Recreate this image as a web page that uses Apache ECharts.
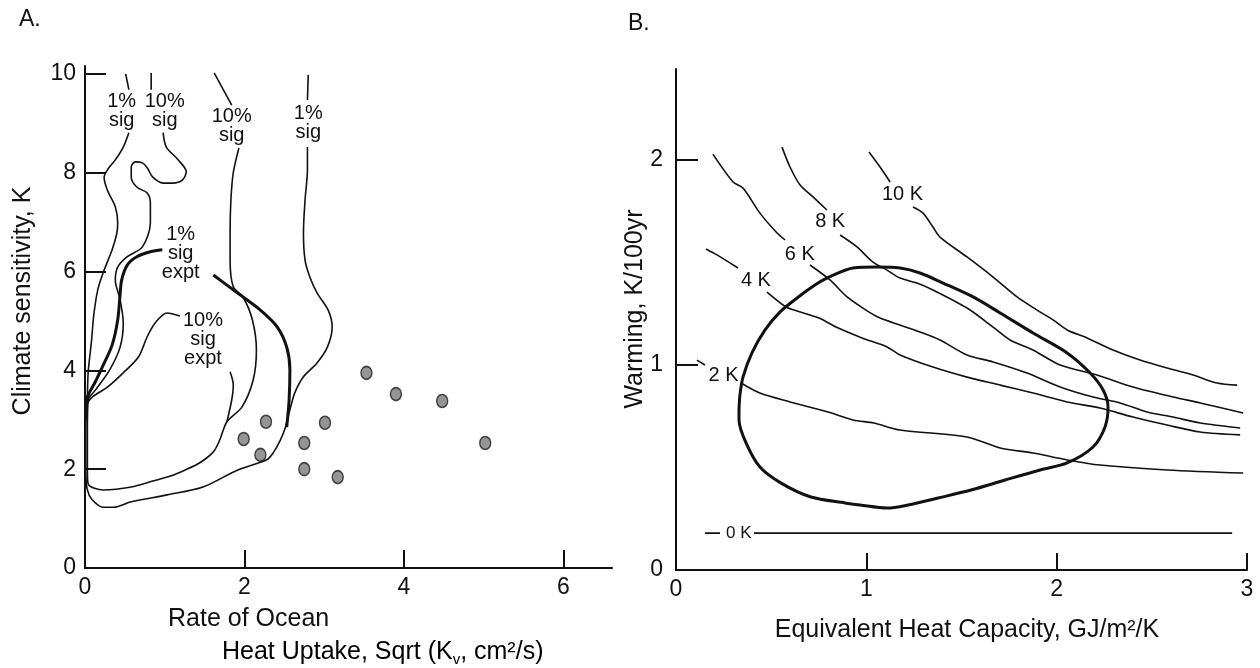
<!DOCTYPE html>
<html>
<head>
<meta charset="utf-8">
<script src="https://cdn.jsdelivr.net/npm/echarts@6/dist/echarts.min.js"></script>
<style>
html, body { margin: 0; padding: 0; background: #fff; }
#chart { width: 1260px; height: 668px; }
</style>
</head>
<body>
<div id="chart"></div>
<script>
// ---- Panel A: ocean heat uptake vs climate sensitivity ----
const aXTicks = [0, 2, 4, 6];
const aYTicks = [0, 2, 4, 6, 8, 10];

const sig1TopLeft = [[0.51, 10.0], [0.55, 9.68]];
const sig1TopRight = [[2.80, 9.98], [2.79, 9.47]];
const sig10TopLeft = [[0.83, 10.02], [0.83, 9.68]];
const sig10TopRight = [[1.62, 10.02], [1.84, 9.37]];

// 1% sig contour (outer)
const sig1Outer = [
    [0.55, 8.81], [0.48, 8.52], [0.38, 8.26], [0.29, 8.08], [0.24, 7.91], [0.28, 7.65],
    [0.38, 7.31], [0.41, 6.98], [0.40, 6.78], [0.34, 6.44], [0.24, 6.03], [0.16, 5.63],
    [0.11, 5.12], [0.08, 4.57], [0.04, 3.97], [0.03, 3.50], [0.01, 2.79], [0.01, 1.98],
    [0.03, 1.58], [0.09, 1.38], [0.23, 1.23], [0.36, 1.23], [0.58, 1.34], [1.03, 1.48],
    [1.48, 1.64], [1.91, 1.98], [2.28, 2.19], [2.36, 2.33], [2.45, 2.59], [2.51, 2.83],
    [2.57, 3.20], [2.63, 3.54], [2.74, 3.87], [2.91, 4.15], [3.04, 4.47], [3.10, 4.88],
    [3.05, 5.22], [2.91, 5.57], [2.82, 5.89], [2.76, 6.23], [2.74, 6.78], [2.76, 7.45],
    [2.79, 8.06], [2.79, 8.52]
];

// 10% sig contour (inner)
const sig10Inner = [
    [0.98, 8.81], [1.02, 8.52], [1.17, 8.26], [1.27, 8.02], [1.22, 7.85], [1.10, 7.79],
    [0.98, 7.79], [0.85, 7.91], [0.78, 8.10], [0.72, 8.20], [0.63, 8.22], [0.58, 8.12],
    [0.58, 7.91], [0.65, 7.71], [0.78, 7.59], [0.82, 7.39], [0.82, 6.98], [0.72, 6.50],
    [0.53, 6.30], [0.41, 6.09], [0.38, 5.83], [0.44, 5.43], [0.48, 4.96], [0.44, 4.47],
    [0.31, 4.01], [0.13, 3.60], [0.04, 3.40], [0.03, 2.79], [0.03, 1.98], [0.04, 1.70],
    [0.23, 1.58], [0.58, 1.64], [0.85, 1.76], [1.07, 1.86], [1.25, 1.98], [1.44, 2.13],
    [1.61, 2.35], [1.69, 2.59], [1.78, 2.96], [1.97, 3.26], [2.11, 3.81], [2.15, 4.41],
    [2.10, 5.02], [1.98, 5.49], [1.86, 5.69], [1.82, 6.23], [1.82, 6.78], [1.83, 7.45],
    [1.86, 8.00], [1.93, 8.50]
];

// 1% sig expt (thick)
const sig1ExptLeft = [
    [0.97, 6.44], [0.82, 6.40], [0.65, 6.30], [0.53, 6.13], [0.46, 5.83], [0.44, 5.53],
    [0.41, 5.02], [0.34, 4.51], [0.23, 4.11], [0.13, 3.77], [0.04, 3.50], [0.01, 3.30]
];
const sig1ExptRight = [
    [1.61, 5.93], [1.91, 5.57], [2.20, 5.22], [2.41, 4.88], [2.53, 4.47], [2.57, 4.01],
    [2.56, 3.40], [2.53, 2.85]
];

// 10% sig expt
const sig10ExptUpper = [
    [1.19, 5.10], [1.03, 5.16], [0.88, 4.96], [0.78, 4.68], [0.67, 4.27], [0.48, 3.95],
    [0.28, 3.66], [0.09, 3.46], [0.03, 3.34]
];
const sig10ExptStub = [[1.82, 3.97], [1.86, 3.70], [1.84, 3.40], [1.78, 2.96]];

// model results
const modelPoints = [
    [3.53, 3.95], [3.90, 3.52], [4.48, 3.38], [5.02, 2.53], [2.27, 2.96], [1.99, 2.61],
    [2.20, 2.29], [2.75, 2.53], [3.01, 2.94], [2.75, 2.00], [3.17, 1.84]
];

const panelALabels = [
    [0.46, 9.25, '1%\nsig'],
    [1.00, 9.25, '10%\nsig'],
    [1.84, 8.95, '10%\nsig'],
    [2.80, 9.01, '1%\nsig'],
    [1.20, 6.36, '1%\nsig\nexpt'],
    [1.48, 4.62, '10%\nsig\nexpt']
];

// ---- Panel B: heat capacity vs warming ----
const bXTicks = [0, 1, 2, 3];
const bYTicks = [0, 1, 2];

const k10Head = [[1.014, 2.039], [1.072, 1.966], [1.125, 1.893]];
const k10 = [
    [1.245, 1.771], [1.298, 1.741], [1.350, 1.673], [1.387, 1.624], [1.529, 1.527],
    [1.666, 1.429], [1.792, 1.332], [1.897, 1.268], [1.981, 1.220], [2.055, 1.171],
    [2.160, 1.132], [2.296, 1.073], [2.438, 1.024], [2.580, 0.985], [2.717, 0.951],
    [2.843, 0.912], [2.948, 0.902]
];
const k8Head = [[0.557, 2.063], [0.599, 1.966], [0.652, 1.878], [0.720, 1.820], [0.793, 1.756]];
const k8 = [
    [0.862, 1.634], [0.951, 1.576], [1.035, 1.502], [1.109, 1.463], [1.177, 1.424],
    [1.266, 1.400], [1.350, 1.366], [1.529, 1.278], [1.666, 1.185], [1.755, 1.122],
    [1.876, 1.073], [2.018, 1.000], [2.212, 0.951], [2.401, 0.893], [2.612, 0.844],
    [2.754, 0.815], [2.980, 0.766]
];
const k6Head = [[0.194, 2.029], [0.300, 1.893], [0.352, 1.863], [0.441, 1.741], [0.531, 1.644], [0.573, 1.610]];
const k6 = [
    [0.704, 1.488], [0.809, 1.415], [0.899, 1.332], [0.998, 1.268], [1.072, 1.229],
    [1.177, 1.195], [1.282, 1.161], [1.387, 1.122], [1.529, 1.049], [1.666, 1.015],
    [1.844, 0.961], [2.018, 0.893], [2.191, 0.844], [2.333, 0.815], [2.475, 0.771],
    [2.612, 0.746], [2.754, 0.717], [2.964, 0.693]
];
const k4Head = [[0.158, 1.566], [0.215, 1.537], [0.326, 1.473]];
const k4 = [
    [0.478, 1.356], [0.578, 1.283], [0.620, 1.268], [0.751, 1.229], [0.841, 1.185],
    [0.977, 1.132], [1.109, 1.088], [1.177, 1.049], [1.350, 0.990], [1.529, 0.941],
    [1.703, 0.902], [1.876, 0.863], [2.055, 0.820], [2.228, 0.790], [2.401, 0.746],
    [2.580, 0.707], [2.754, 0.673], [2.964, 0.659]
];
const k2Head = [[0.110, 1.024], [0.152, 1.000]];
const k2 = [
    [0.342, 0.912], [0.441, 0.863], [0.599, 0.820], [0.799, 0.771], [0.930, 0.732],
    [1.040, 0.717], [1.177, 0.683], [1.529, 0.649], [1.703, 0.595], [1.876, 0.571],
    [2.055, 0.537], [2.228, 0.512], [2.580, 0.488], [2.980, 0.473]
];
const k0Head = [[0.152, 0.180], [0.231, 0.180]];
const k0 = [[0.410, 0.180], [2.922, 0.180]];

// observational constraint (thick closed curve)
const constraintRegion = [
    [0.331, 0.780], [0.336, 0.854], [0.352, 0.941], [0.399, 1.059], [0.468, 1.171],
    [0.547, 1.259], [0.636, 1.327], [0.730, 1.390], [0.793, 1.424], [0.930, 1.473],
    [1.056, 1.478], [1.177, 1.473], [1.282, 1.449], [1.403, 1.400], [1.561, 1.332],
    [1.703, 1.254], [1.876, 1.156], [2.055, 1.059], [2.176, 0.961], [2.244, 0.878],
    [2.270, 0.795], [2.254, 0.698], [2.191, 0.600], [2.055, 0.522], [1.913, 0.488],
    [1.729, 0.439], [1.550, 0.390], [1.377, 0.351], [1.219, 0.317], [1.109, 0.302],
    [0.967, 0.317], [0.888, 0.327], [0.709, 0.356], [0.552, 0.424], [0.441, 0.502],
    [0.368, 0.620], [0.331, 0.732], [0.331, 0.780]
];

const panelBLabels = [
    [1.19, 1.83, '10 K'],
    [0.81, 1.70, '8 K'],
    [0.65, 1.54, '6 K'],
    [0.42, 1.41, '4 K'],
    [0.25, 0.95, '2 K']
];
const zeroLabel = [[0.33, 0.18, '0 K']];

const ink = '#111111';
const font = '"Liberation Sans", Arial, Helvetica, sans-serif';

function valueAxis(grid, min, max, ticks, tickLen, margin) {
    return {
        gridIndex: grid,
        type: 'value',
        min: min,
        max: max,
        axisLine: { show: true, lineStyle: { color: ink, width: 2 } },
        axisTick: { show: true, inside: true, length: tickLen, customValues: ticks, lineStyle: { color: ink, width: 2 } },
        axisLabel: { customValues: ticks, color: ink, fontSize: 23, fontFamily: font, margin: margin },
        splitLine: { show: false }
    };
}

function curve(xi, data, width) {
    return {
        type: 'line',
        xAxisIndex: xi,
        yAxisIndex: xi,
        data: data,
        showSymbol: false,
        symbol: 'none',
        smooth: 0.3,
        silent: true,
        lineStyle: { color: ink, width: width || 1.6 }
    };
}

function textMarks(xi, data, size, lineHeight) {
    return {
        type: 'scatter',
        xAxisIndex: xi,
        yAxisIndex: xi,
        data: data,
        symbolSize: 1,
        silent: true,
        itemStyle: { color: 'rgba(0,0,0,0)' },
        label: {
            show: true,
            position: 'inside',
            formatter: p => p.data[2],
            color: ink,
            opacity: 1,
            textBorderWidth: 0,
            fontSize: size,
            lineHeight: lineHeight,
            fontFamily: font,
            align: 'center'
        }
    };
}

const chart = echarts.init(document.getElementById('chart'));

chart.setOption({
    animation: false,
    backgroundColor: '#fff',
    grid: [
        { left: 85, top: 66, width: 527, height: 502 },
        { left: 676, top: 69, width: 571, height: 501 }
    ],
    xAxis: [
        valueAxis(0, 0, 6.61, aXTicks, 18, 8),
        Object.assign(valueAxis(1, 0, 3, bXTicks, 17, 8), { interval: 1 })
    ],
    yAxis: [
        valueAxis(0, 0, 10.16, aYTicks, 21, 9),
        valueAxis(1, 0, 2.444, bYTicks, 22, 13)
    ],
    graphic: [
        { type: 'text', left: 19, top: 8, style: { text: 'A.', font: '23px ' + font, fill: ink } },
        { type: 'text', left: 628, top: 12, style: { text: 'B.', font: '23px ' + font, fill: ink } },
        {
            type: 'text', x: 23, y: 301, rotation: Math.PI / 2,
            style: { text: 'Climate sensitivity, K', font: '25px ' + font, fill: ink, align: 'center', verticalAlign: 'middle' }
        },
        {
            type: 'text', x: 168, y: 619,
            style: { text: 'Rate of Ocean', font: '25px ' + font, fill: ink, align: 'left', verticalAlign: 'middle' }
        },
        {
            type: 'text', x: 222, y: 652,
            style: {
                text: '{a|Heat Uptake, Sqrt (K}{s|v}{a|, cm²/s)}',
                align: 'left', verticalAlign: 'middle',
                rich: {
                    a: { fontSize: 25, fontFamily: font, color: ink, lineHeight: 30 },
                    s: { fontSize: 15, fontFamily: font, color: ink, lineHeight: 30, verticalAlign: 'bottom' }
                }
            }
        },
        {
            type: 'text', x: 635, y: 309, rotation: Math.PI / 2,
            style: { text: 'Warming, K/100yr', font: '25px ' + font, fill: ink, align: 'center', verticalAlign: 'middle' }
        },
        {
            type: 'text', x: 967, y: 630,
            style: { text: 'Equivalent Heat Capacity, GJ/m²/K', font: '25px ' + font, fill: ink, align: 'center', verticalAlign: 'middle' }
        }
    ],
    series: [
        curve(0, sig1TopLeft),
        curve(0, sig1TopRight),
        curve(0, sig10TopLeft),
        curve(0, sig10TopRight),
        curve(0, sig1Outer),
        curve(0, sig10Inner),
        curve(0, sig1ExptLeft, 3),
        curve(0, sig1ExptRight, 3),
        curve(0, sig10ExptUpper),
        curve(0, sig10ExptStub),
        {
            type: 'scatter',
            xAxisIndex: 0,
            yAxisIndex: 0,
            data: modelPoints,
            symbol: 'circle',
            symbolSize: [11, 13],
            silent: true,
            itemStyle: { color: '#7b7b7b', borderColor: '#1e1e1e', borderWidth: 1.5 }
        },
        textMarks(0, panelALabels, 20, 19),

        curve(1, k10Head),
        curve(1, k10),
        curve(1, k8Head),
        curve(1, k8),
        curve(1, k6Head),
        curve(1, k6),
        curve(1, k4Head),
        curve(1, k4),
        curve(1, k2Head),
        curve(1, k2),
        curve(1, k0Head),
        curve(1, k0),
        curve(1, constraintRegion, 3),
        textMarks(1, panelBLabels, 20, 20),
        textMarks(1, zeroLabel, 17, 17)
    ]
});
</script>
</body>
</html>
